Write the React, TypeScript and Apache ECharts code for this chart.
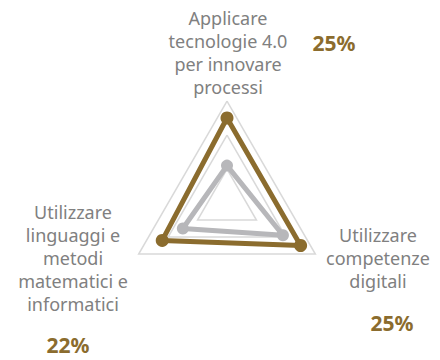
import React, { useEffect, useRef } from "react";
import * as echarts from "echarts";

const indicatorNames = [
  "Applicare\ntecnologie 4.0\nper innovare\nprocessi",
  "Utilizzare\nlinguaggi e\nmetodi\nmatematici e\ninformatici",
  "Utilizzare\ncompetenze\ndigitali",
];
const maxValue = 30;
const seriesMain = [25, 22, 25];
const seriesSecondary = [11, 15, 19];
const percentLabels = ["25%", "22%", "25%"];

const BROWN = "#8B6C2E";
const GRAY_LINE = "#B7B7BA";
const LABEL = "#808080";
const FONT = "'Noto Sans', sans-serif";

export default function App() {
  const ref = useRef<HTMLDivElement>(null);
  useEffect(() => {
    if (!ref.current) return;
    const chart = echarts.init(ref.current, null, { renderer: "svg" });
    const labelPos = [
      { x: 228, y: 52 },
      { x: 73, y: 258 },
      { x: 378, y: 258 },
    ];
    const pctPos = [
      { x: 334, y: 43 },
      { x: 68, y: 345 },
      { x: 392, y: 323 },
    ];
    chart.setOption({
      animation: false,
      backgroundColor: "#ffffff",
      radar: {
        center: [227, 203],
        radius: 102,
        startAngle: 90,
        shape: "polygon",
        splitNumber: 3,
        indicator: indicatorNames.map((n) => ({ name: n, max: maxValue, min: 0 })),
        axisName: { show: false },
        axisLine: { show: false },
        axisTick: { show: false },
        splitArea: { show: false },
        splitLine: { lineStyle: { color: "#D9D9D9", width: 1.5 } },
      },
      series: [
        {
          type: "radar",
          data: [
            {
              value: seriesSecondary,
              symbol: "circle",
              symbolSize: 12,
              itemStyle: { color: GRAY_LINE },
              lineStyle: { color: GRAY_LINE, width: 5 },
            },
            {
              value: seriesMain,
              symbol: "circle",
              symbolSize: 13,
              itemStyle: { color: BROWN },
              lineStyle: { color: BROWN, width: 5 },
            },
          ],
        },
      ],
      graphic: [
        ...indicatorNames.map((n, i) => ({
          type: "text",
          x: labelPos[i].x,
          y: labelPos[i].y,
          style: {
            text: n,
            fill: LABEL,
            font: `18px ${FONT}`,
            lineHeight: 23,
            align: "center",
            verticalAlign: "middle",
          },
        })),
        ...percentLabels.map((p, i) => ({
          type: "text",
          x: pctPos[i].x,
          y: pctPos[i].y,
          style: {
            text: p,
            fill: BROWN,
            font: `bold 21px ${FONT}`,
            lineHeight: 24,
            align: "center",
            verticalAlign: "middle",
          },
        })),
      ],
    });
    return () => chart.dispose();
  }, []);
  return <div ref={ref} style={{ width: 440, height: 360, position: "absolute", left: 0, top: 0 }} />;
}
